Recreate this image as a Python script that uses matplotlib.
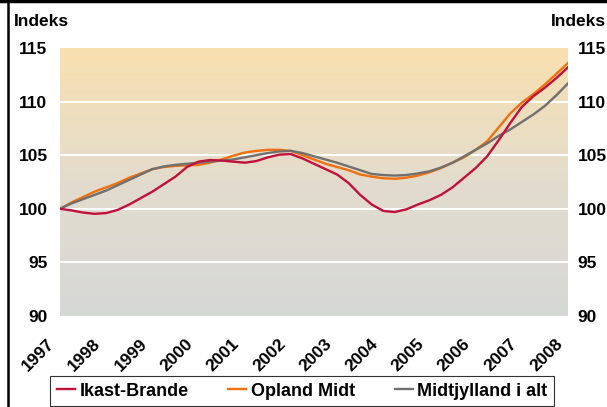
import numpy as np
import matplotlib
matplotlib.use("Agg")
from matplotlib import pyplot as plt
from matplotlib.lines import Line2D
from matplotlib.colors import LinearSegmentedColormap
from matplotlib.transforms import ScaledTranslation

# kvartalsvise indeks, 1997 = 100
quarters = [1997 + i * 0.25 for i in range(45)]

ikast_brande = [
    100.0, 99.85, 99.65, 99.53, 99.6, 99.9, 100.4, 101.0, 101.6, 102.3,
    103.0, 103.9, 104.4, 104.55, 104.5, 104.4, 104.3, 104.45, 104.8, 105.05,
    105.1, 104.7, 104.2, 103.7, 103.2, 102.4, 101.3, 100.4, 99.8, 99.7,
    99.95, 100.4, 100.8, 101.3, 102.0, 102.9, 103.8, 104.9, 106.4, 108.0,
    109.5, 110.5, 111.3, 112.2, 113.2,
]
opland_midt = [
    100.0, 100.6, 101.1, 101.6, 102.0, 102.4, 102.9, 103.3, 103.7, 103.9,
    104.0, 104.05, 104.1, 104.3, 104.6, 104.95, 105.25, 105.4, 105.5, 105.5,
    105.4, 105.0, 104.6, 104.2, 103.9, 103.6, 103.2, 103.0, 102.85, 102.8,
    102.9, 103.1, 103.4, 103.8, 104.3, 104.8, 105.5, 106.3, 107.6, 108.9,
    109.9, 110.7, 111.6, 112.6, 113.6,
]
midtjylland = [
    100.0, 100.5, 100.9, 101.3, 101.7, 102.2, 102.7, 103.2, 103.7, 103.95,
    104.1, 104.2, 104.3, 104.4, 104.5, 104.6, 104.8, 105.0, 105.2, 105.35,
    105.4, 105.2, 104.9, 104.6, 104.3, 103.95, 103.6, 103.25, 103.15, 103.1,
    103.15, 103.3, 103.5, 103.85, 104.3, 104.9, 105.5, 106.1, 106.8, 107.4,
    108.1, 108.8, 109.6, 110.6, 111.7,
]

years = list(range(1997, 2009))
y_ticks = [90, 95, 100, 105, 110, 115]

plt.rcParams['font.family'] = ['Liberation Sans', 'DejaVu Sans']
plt.rcParams['font.weight'] = 'bold'
fs = 12.5

fig = plt.figure(figsize=(6.07, 4.07), dpi=100)
ax = fig.add_axes([60 / 607, 1 - 316 / 407, 508 / 607, 268 / 407])

# baggrund med gradient
cmap = LinearSegmentedColormap.from_list('bg', ['#d6d8d7', '#e3dccd', '#f9e0b0'])
grad = np.linspace(0, 1, 256).reshape(-1, 1)
ax.imshow(grad, cmap=cmap, aspect='auto', origin='lower',
          extent=[1997, 2008, 90, 115], zorder=0)

for v in y_ticks[1:-1]:
    ax.axhline(v, color='white', lw=1.5, zorder=1)

ax.plot(quarters, ikast_brande, color='#c0103c', lw=1.7, label='Ikast-Brande', zorder=3)
ax.plot(quarters, opland_midt, color='#f07010', lw=1.7, label='Opland Midt', zorder=2)
ax.plot(quarters, midtjylland, color='#707070', lw=1.7, label='Midtjylland i alt', zorder=2)

ax.set_xlim(1997, 2008)
ax.set_ylim(90, 115)
ax.set_xticks([])
# årstal skrevet som tekst, skråt under aksen
shift = ScaledTranslation(-13 / 100, -20 / 100, fig.dpi_scale_trans)
for y in years:
    ax.text(y, 0, str(y), transform=ax.get_xaxis_transform() + shift,
            rotation=45, ha='right', va='top', rotation_mode='anchor',
            fontsize=fs, fontweight='bold', clip_on=False)
ax.set_yticks(y_ticks)
ax.set_yticklabels([str(v) for v in y_ticks], fontsize=fs, fontweight='bold')
ax.tick_params(axis='both', length=0)
ax.tick_params(axis='y', pad=9)
for s in ax.spines.values():
    s.set_visible(False)

ax2 = ax.twinx()
ax2.set_ylim(90, 115)
ax2.set_yticks(y_ticks)
ax2.set_yticklabels([str(v) for v in y_ticks], fontsize=fs, fontweight='bold')
ax2.tick_params(axis='y', length=0, pad=7)
for s in ax2.spines.values():
    s.set_visible(False)

fig.text(14 / 607, 1 - 21 / 407, 'Indeks', fontsize=fs, fontweight='bold', va='center')
fig.text(551 / 607, 1 - 21 / 407, 'Indeks', fontsize=fs, fontweight='bold', va='center')

leg = fig.legend(loc='center', bbox_to_anchor=(302 / 607, 1 - 391 / 407), ncol=3,
                 fontsize=13, frameon=True, fancybox=False, handlelength=1.0,
                 handletextpad=0.25, columnspacing=2.2, borderpad=0.35,
                 borderaxespad=0)
leg.get_frame().set_edgecolor('black')
leg.get_frame().set_linewidth(0.8)
for t in leg.get_texts():
    t.set_fontweight('bold')

# ramme i venstre side og top
fig.add_artist(Line2D([8 / 607, 8 / 607], [0, 1], color='black', lw=1.8, transform=fig.transFigure))
fig.add_artist(Line2D([0, 1], [1 - 1 / 407, 1 - 1 / 407], color='black', lw=2.5, transform=fig.transFigure))

plt.savefig('out.png', dpi=100)
